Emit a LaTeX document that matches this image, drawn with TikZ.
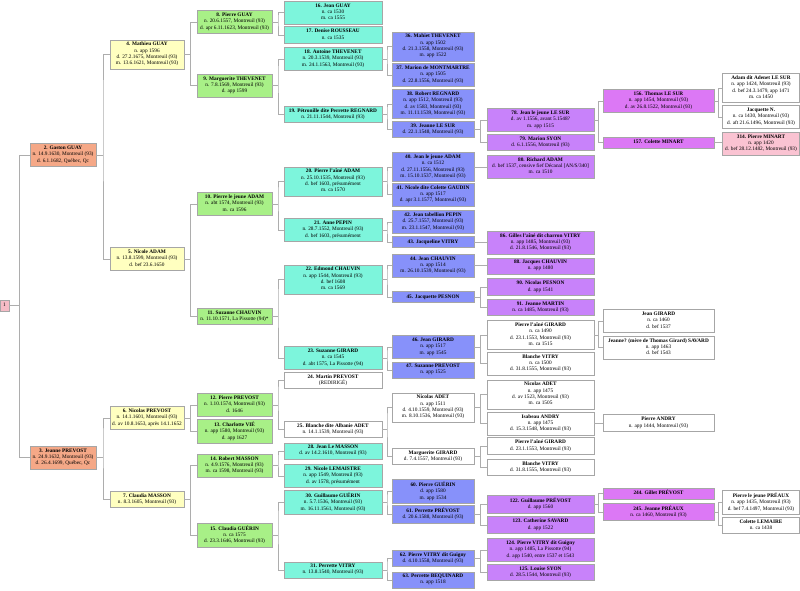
\documentclass[tikz,border=0pt]{standalone}
\usepackage{fontspec}
\setmainfont{Liberation Serif}
\usepackage{xcolor}
\usepackage{tikz}
\usetikzlibrary{calc}

\definecolor{cself}{RGB}{245,188,198}
\definecolor{cgen2}{RGB}{245,168,135}
\definecolor{cgen3}{RGB}{255,255,192}
\definecolor{cgen4}{RGB}{168,240,135}
\definecolor{cgen5}{RGB}{125,245,220}
\definecolor{cgen6}{RGB}{135,145,250}
\definecolor{cgen7}{RGB}{200,130,250}
\definecolor{cgen8}{RGB}{220,120,245}
\definecolor{cgen9}{RGB}{250,195,210}

\begin{document}
\begin{tikzpicture}[x=1pt,y=-1pt,
  box/.style={rectangle,draw=black!35,line width=.6pt,align=center,inner xsep=1.5pt,inner ysep=2.35pt,
    font=\fontsize{5.3}{6.3}\selectfont,execute at begin node=\strut,execute at end node=\strut},
  me/.style={box,fill=cself,minimum width=9pt},
  g2/.style={box,fill=cgen2,minimum width=66pt},
  g3/.style={box,fill=cgen3,minimum width=74pt},
  g4/.style={box,fill=cgen4,minimum width=75pt},
  g5/.style={box,fill=cgen5,minimum width=98pt},
  g6/.style={box,fill=cgen6,minimum width=82pt},
  g7/.style={box,fill=cgen7,minimum width=107pt},
  g8/.style={box,fill=cgen8,minimum width=111pt},
  g9/.style={box,fill=cgen9,minimum width=77pt},
  w5/.style={box,fill=white,minimum width=98pt},
  w6/.style={box,fill=white,minimum width=82pt},
  w7/.style={box,fill=white,minimum width=107pt},
  w8/.style={box,fill=white,minimum width=111pt},
  w9/.style={box,fill=white,minimum width=77pt},
  link/.style={draw=black!32,line width=.7pt}]
\useasboundingbox (0,0) rectangle (800,590);
% 1 - 3
\node[me] (p1) at (4.5,305.5) {1};
\node[g2] (p2) at (63,155) {\textbf{2. Gaston GUAY}\\n. 14.9.1630, Montreuil (93)\\d. 6.1.1682, Québec, Qc};
\node[g2] (p3) at (63,457.5) {\textbf{3. Jeanne PREVOST}\\n. 24.9.1632, Montreuil (93)\\d. 26.4.1699, Québec, Qc};
% 4 - 7
\node[g3] (p4) at (147,54.5) {\textbf{4. Mathieu GUAY}\\n. app 1596\\d. 27.2.1675, Montreuil (93)\\m. 13.6.1621, Montreuil (93)};
\node[g3] (p5) at (147,259) {\textbf{5. Nicole ADAM}\\n. 13.8.1599, Montreuil (93)\\d. bef 23.6.1650};
\node[g3] (p6) at (147,418) {\textbf{6. Nicolas PREVOST}\\n. 14.1.1601, Montreuil (93)\\d. av 10.8.1653, après 14.1.1652};
\node[g3] (p7) at (147,499.5) {\textbf{7. Claudia MASSON}\\n. 8.3.1605, Montreuil (93)};
% 8 - 15
\node[g4] (p8) at (234.5,22) {\textbf{8. Pierre GUAY}\\n. 20.6.1557, Montreuil (93)\\d. apr 6.11.1623, Montreuil (93)};
\node[g4] (p9) at (234.5,85.5) {\textbf{9. Marguerite THEVENET}\\n. 7.8.1569, Montreuil (93)\\d. app 1599};
\node[g4] (p10) at (234.5,204) {\textbf{10. Pierre le jeune ADAM}\\n. abt 1574, Montreuil (93)\\m. ca 1596};
\node[g4] (p11) at (234.5,316.5) {\textbf{11. Suzanne CHAUVIN}\\n. 11.10.1571, La Pissotte (94)*};
\node[g4] (p12) at (234.5,405) {\textbf{12. Pierre PREVOST}\\n. 1.10.1574, Montreuil (93)\\d. 1646};
\node[g4] (p13) at (234.5,431.5) {\textbf{13. Charlotte VIÉ}\\n. app 1580, Montreuil (93)\\d. app 1627};
\node[g4] (p14) at (234.5,465.5) {\textbf{14. Robert MASSON}\\n. 4.9.1576, Montreuil (93)\\m. ca 1598, Montreuil (93)};
\node[g4] (p15) at (234.5,535) {\textbf{15. Claudia GUÉRIN}\\n. ca 1575\\d. 23.3.1646, Montreuil (93)};
% 16 - 31
\node[g5] (p16) at (333,12.5) {\textbf{16. Jean GUAY}\\n. ca 1530\\m. ca 1555};
\node[g5] (p17) at (333,35) {\textbf{17. Denise ROUSSEAU}\\n. ca 1535};
\node[g5] (p18) at (333,59) {\textbf{18. Antoine THEVENET}\\n. 20.3.1539, Montreuil (93)\\m. 24.1.1563, Montreuil (93)};
\node[g5] (p19) at (333,114.5) {\textbf{19. Pétronille dite Perrette REGNARD}\\n. 21.11.1544, Montreuil (93)};
\node[g5] (p20) at (333,181.5) {\textbf{20. Pierre l'aîné ADAM}\\n. 25.10.1535, Montreuil (93)\\d. bef 1603, présumément\\m. ca 1570};
\node[g5] (p21) at (333,230) {\textbf{21. Anne PEPIN}\\n. 28.7.1552, Montreuil (93)\\d. bef 1603, présumément};
\node[g5] (p22) at (333,279.5) {\textbf{22. Edmond CHAUVIN}\\n. app 1544, Montreuil (93)\\d. bef 1608\\m. ca 1569};
\node[g5] (p23) at (333,358) {\textbf{23. Suzanne GIRARD}\\n. ca 1545\\d. abt 1575, La Pissotte (94)};
\node[w5] (p24) at (333,380.5) {\textbf{24. Martin PREVOST}\\(REDIRIGÉ)};
\node[w5] (p25) at (333,429.5) {\textbf{25. Blanche dite Albanie ADET}\\n. 14.1.1539, Montreuil (93)};
\node[g5] (p28) at (333,451) {\textbf{28. Jean Le MASSON}\\d. av 14.2.1610, Montreuil (93)};
\node[g5] (p29) at (333,476) {\textbf{29. Nicole LEMAISTRE}\\n. app 1549, Montreuil (93)\\d. av 1578, présumément};
\node[g5] (p30) at (333,502.5) {\textbf{30. Guillaume GUÉRIN}\\n. 5.7.1536, Montreuil (93)\\m. 16.11.1561, Montreuil (93)};
\node[g5] (p31) at (333,570) {\textbf{31. Perrette VITRY}\\n. 13.8.1540, Montreuil (93)};
% 32 - 63
\node[g6] (p36) at (433,46.5) {\textbf{36. Mahiet THEVENET}\\n. app 1502\\d. 21.3.1558, Montreuil (93)\\m. app 1522};
\node[g6] (p37) at (433,75) {\textbf{37. Marion de MONTMARTRE}\\n. app 1505\\d. 22.8.1556, Montreuil (93)};
\node[g6] (p38) at (433,104) {\textbf{38. Robert REGNARD}\\n. app 1512, Montreuil (93)\\d. av 1583, Montreuil (93)\\m. 11.11.1539, Montreuil (93)};
\node[g6] (p39) at (433,129.5) {\textbf{39. Jeanne LE SUR}\\d. 22.1.1548, Montreuil (93)};
\node[g6] (p40) at (433,167) {\textbf{40. Jean le jeune ADAM}\\n. ca 1512\\d. 27.11.1556, Montreuil (93)\\m. 15.10.1537, Montreuil (93)};
\node[g6] (p41) at (433,194.5) {\textbf{41. Nicole dite Colette GAUDIN}\\n. app 1517\\d. apr 3.1.1577, Montreuil (93)};
\node[g6] (p42) at (433,222) {\textbf{42. Jean tabellion PEPIN}\\d. 25.7.1557, Montreuil (93)\\m. 23.1.1547, Montreuil (93)};
\node[g6] (p43) at (433,242) {\textbf{43. Jacqueline VITRY}};
\node[g6] (p44) at (433,265.5) {\textbf{44. Jean CHAUVIN}\\n. app 1514\\m. 26.10.1539, Montreuil (93)};
\node[g6] (p45) at (433,297) {\textbf{45. Jacquette PESNON}};
\node[g6] (p46) at (433,347) {\textbf{46. Jean GIRARD}\\n. app 1517\\m. app 1545};
\node[g6] (p47) at (433,370) {\textbf{47. Suzanne PREVOST}\\n. app 1525};
\node[w6] (nadet) at (433,407.5) {\textbf{Nicolas ADET}\\n. app 1511\\d. 4.10.1559, Montreuil (93)\\m. 8.10.1536, Montreuil (93)};
\node[w6] (mgirard) at (433,456.5) {\textbf{Marguerite GIRARD}\\d. 7.4.1557, Montreuil (93)};
\node[g6] (p60) at (433,491.5) {\textbf{60. Pierre GUÉRIN}\\d. app 1580\\m. app 1534};
\node[g6] (p61) at (433,514.5) {\textbf{61. Perrette PRÉVOST}\\d. 20.6.1588, Montreuil (93)};
\node[g6] (p62) at (433,558.5) {\textbf{62. Pierre VITRY dit Guigny}\\d. 4.10.1558, Montreuil (93)};
\node[g6] (p63) at (433,580) {\textbf{63. Perrette BEQUINARD}\\n. app 1518};
% 64 - 127
\node[g7] (p78) at (540.5,120) {\textbf{78. Jean le jeune LE SUR}\\d. av 1.1556, avant 5.1548?\\m. app 1515};
\node[g7] (p79) at (540.5,142.5) {\textbf{79. Marion SYON}\\d. 6.1.1556, Montreuil (93)};
\node[g7] (p80) at (540.5,166.5) {\textbf{80. Richard ADAM}\\d. bef 1537, censive fief Décanal [AN/S/340]\\m. ca 1510};
\node[g7] (p86) at (540.5,242.5) {\textbf{86. Gilles l'aîné dit charron VITRY}\\n. app 1485, Montreuil (93)\\d. 21.8.1546, Montreuil (93)};
\node[g7] (p88) at (540.5,266) {\textbf{88. Jacques CHAUVIN}\\n. app 1480};
\node[g7] (p90) at (540.5,287) {\textbf{90. Nicolas PESNON}\\d. app 1541};
\node[g7] (p91) at (540.5,307.5) {\textbf{91. Jeanne MARTIN}\\n. ca 1485, Montreuil (93)};
\node[w7] (pgirard) at (540.5,335) {\textbf{Pierre l'aîné GIRARD}\\n. ca 1490\\d. 23.1.1553, Montreuil (93)\\m. ca 1515};
\node[w7] (bvitry) at (540.5,363.5) {\textbf{Blanche VITRY}\\n. ca 1500\\d. 31.8.1555, Montreuil (93)};
\node[w7] (nadetb) at (540.5,394.5) {\textbf{Nicolas ADET}\\n. app 1475\\d. av 1523, Montreuil (93)\\m. ca 1505};
\node[w7] (iandry) at (540.5,423.5) {\textbf{Isabeau ANDRY}\\n. app 1475\\d. 15.3.1548, Montreuil (93)};
\node[w7] (pgirardb) at (540.5,446) {\textbf{Pierre l'aîné GIRARD}\\d. 23.1.1553, Montreuil (93)};
\node[w7] (bvitryb) at (540.5,467.5) {\textbf{Blanche VITRY}\\d. 31.8.1555, Montreuil (93)};
\node[g7] (p122) at (540.5,504.5) {\textbf{122. Guillaume PRÉVOST}\\d. app 1560};
\node[g7] (p123) at (540.5,525) {\textbf{123. Catherine SAVARD}\\d. app 1522};
\node[g7] (p124) at (540.5,550) {\textbf{124. Pierre VITRY dit Guigny}\\n. app 1485, La Pissotte (94)\\d. app 1540, entre 1537 et 1543};
\node[g7] (p125) at (540.5,572.5) {\textbf{125. Louise SYON}\\d. 28.5.1544, Montreuil (93)};
% 128 - 255
\node[g8] (p156) at (658.5,101) {\textbf{156. Thomas LE SUR}\\n. app 1454, Montreuil (93)\\d. av 26.8.1522, Montreuil (93)};
\node[g8] (p157) at (658.5,142.5) {\textbf{157. Colette MINART}};
\node[w8] (jgirard) at (658.5,321) {\textbf{Jean GIRARD}\\n. ca 1460\\d. bef 1537};
\node[w8] (jsavard) at (658.5,347.5) {\textbf{Jeanne? (mère de Thomas Girard) SAVARD}\\n. app 1463\\d. bef 1543};
\node[w8] (pandry) at (658.5,423) {\textbf{Pierre ANDRY}\\n. app 1444, Montreuil (93)};
\node[g8] (p244) at (658.5,493.5) {\textbf{244. Gillet PRÉVOST}};
\node[g8] (p245) at (658.5,512) {\textbf{245. Jeanne PRÉAUX}\\n. ca 1460, Montreuil (93)};
% 256 -
\node[w9] (alesur) at (761,88) {\textbf{Adam dit Adenet LE SUR}\\n. app 1424, Montreuil (93)\\d. bef 24.3.1479, app 1471\\m. ca 1450};
\node[w9] (jacqn) at (761,117) {\textbf{Jacquette N.}\\n. ca 1430, Montreuil (93)\\d. aft 21.6.1496, Montreuil (93)};
\node[g9] (p314) at (761,143.5) {\textbf{314. Pierre MINART}\\n. app 1420\\d. bef 28.12.1482, Montreuil (93)};
\node[w9] (ppreaux) at (761,502.5) {\textbf{Pierre le jeune PRÉAUX}\\n. app 1435, Montreuil (93)\\d. bef 7.4.1497, Montreuil (93)};
\node[w9] (clemaire) at (761,525.5) {\textbf{Colette LEMAIRE}\\n. ca 1438};
% links: child / father / mother
\foreach \ch/\fa/\mo in {p1/p2/p3, p2/p4/p5, p3/p6/p7, p4/p8/p9, p5/p10/p11, p6/p12/p13,
    p7/p14/p15, p8/p16/p17, p9/p18/p19, p10/p20/p21, p11/p22/p23, p12/p24/p25, p14/p28/p29,
    p15/p30/p31, p18/p36/p37, p19/p38/p39, p20/p40/p41, p21/p42/p43, p22/p44/p45, p23/p46/p47,
    p25/nadet/mgirard, p30/p60/p61, p31/p62/p63, p39/p78/p79, p45/p90/p91, p46/pgirard/bvitry,
    nadet/nadetb/iandry, mgirard/pgirardb/bvitryb, p61/p122/p123, p62/p124/p125, p78/p156/p157,
    pgirard/jgirard/jsavard, p122/p244/p245, p156/alesur/jacqn, p245/ppreaux/clemaire} {
  \coordinate (mid) at ($(\ch.east)!.5!(\fa.west)$);
  \draw[link] (\ch.east) -- (\ch.east -| mid);
  \draw[link] (\fa.west) -| (mid) |- (\mo.west);
}
\foreach \ch/\pa in {p40/p80, p43/p86, p44/p88, iandry/pandry, p157/p314}
  \draw[link] (\ch.east) -- (\ch.east -| \pa.west);
\end{tikzpicture}
\end{document}
